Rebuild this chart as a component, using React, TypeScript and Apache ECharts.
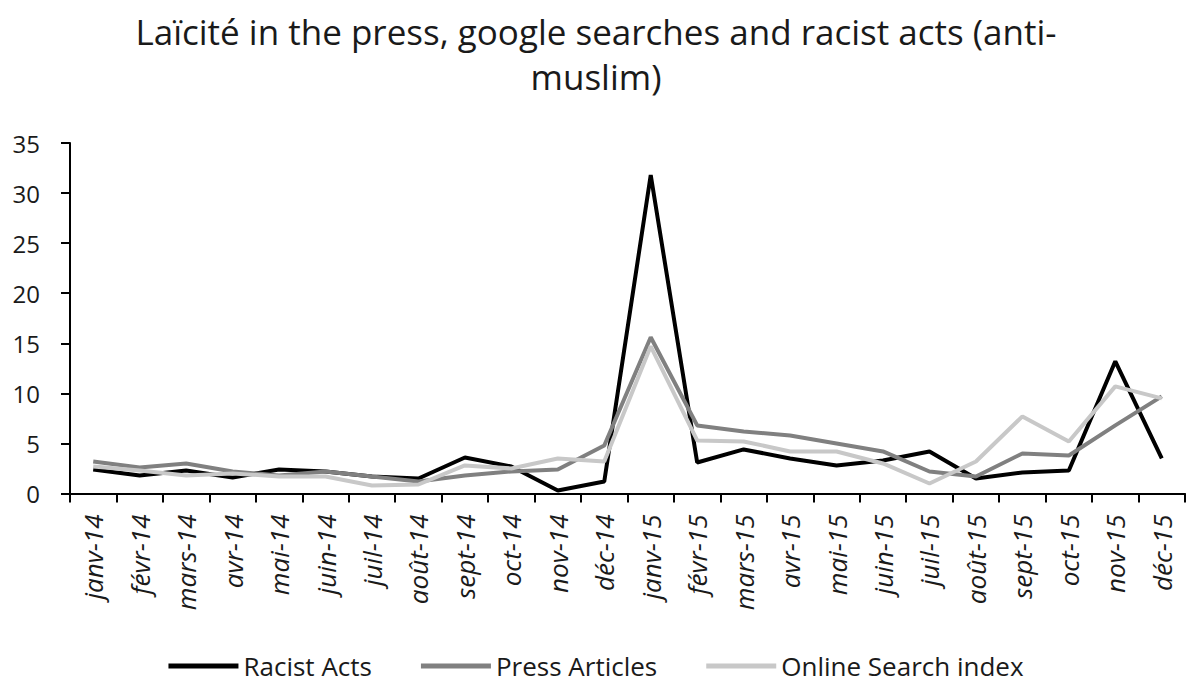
import React, { useEffect, useRef } from "react";
import * as echarts from "echarts";

const months: string[] = [
  "janv-14", "févr-14", "mars-14", "avr-14", "mai-14", "juin-14",
  "juil-14", "août-14", "sept-14", "oct-14", "nov-14", "déc-14",
  "janv-15", "févr-15", "mars-15", "avr-15", "mai-15", "juin-15",
  "juil-15", "août-15", "sept-15", "oct-15", "nov-15", "déc-15",
];

const racistActs: number[] = [
  2.4, 1.8, 2.3, 1.6, 2.4, 2.2, 1.7, 1.5, 3.6, 2.7, 0.3, 1.2,
  31.8, 3.1, 4.4, 3.5, 2.8, 3.3, 4.2, 1.5, 2.1, 2.3, 13.2, 3.5,
];

const pressArticles: number[] = [
  3.2, 2.6, 3.0, 2.2, 1.8, 2.2, 1.7, 1.2, 1.8, 2.2, 2.4, 4.8,
  15.6, 6.8, 6.2, 5.8, 5.0, 4.2, 2.2, 1.7, 4.0, 3.8, 6.8, 9.7,
];

const onlineSearch: number[] = [
  2.7, 2.3, 1.8, 2.0, 1.7, 1.7, 0.8, 0.9, 2.8, 2.5, 3.5, 3.2,
  14.7, 5.3, 5.2, 4.2, 4.2, 3.0, 1.0, 3.2, 7.7, 5.2, 10.7, 9.5,
];

const yTicks: number[] = [0, 5, 10, 15, 20, 25, 30, 35];

const FONT = "'Open Sans', 'Noto Sans', sans-serif";

export default function App() {
  const ref = useRef<HTMLDivElement>(null);

  useEffect(() => {
    document.body.style.margin = "0";
    if (!ref.current) return;
    const chart = echarts.init(ref.current, undefined, { renderer: "svg" });
    const line = (name: string, data: number[], color: string) => ({
      name,
      type: "line",
      data,
      symbol: "none",
      lineStyle: { color, width: 4 },
      itemStyle: { color },
    });
    chart.setOption({
      animation: false,
      backgroundColor: "#ffffff",
      title: {
        text: "Laïcité in the press, google searches and racist acts (anti-\nmuslim)",
        left: "center",
        top: 4,
        textStyle: {
          fontFamily: FONT,
          fontSize: 35,
          fontWeight: "normal",
          color: "#1a1a1a",
          lineHeight: 45,
        },
      },
      legend: {
        bottom: 0,
        left: "center",
        itemWidth: 70,
        itemHeight: 5,
        itemGap: 49,
        icon: "rect",
        textStyle: { fontFamily: FONT, fontSize: 26, color: "#1a1a1a" },
        data: ["Racist Acts", "Press Articles", "Online Search index"],
      },
      grid: { left: 70, right: 7, top: 143, bottom: 190.5, containLabel: false },
      xAxis: {
        type: "category",
        data: months,
        boundaryGap: true,
        axisLine: { lineStyle: { color: "#000", width: 2 } },
        axisTick: { show: true, length: 9, lineStyle: { color: "#000", width: 2 } },
        axisLabel: {
          rotate: 90,
          interval: 0,
          margin: 21,
          fontFamily: FONT,
          fontSize: 26,
          fontStyle: "italic",
          color: "#1a1a1a",
        },
        splitLine: { show: false },
      },
      yAxis: {
        type: "value",
        min: yTicks[0],
        max: yTicks[yTicks.length - 1],
        interval: 5,
        axisLine: { show: true, lineStyle: { color: "#000", width: 2 } },
        axisTick: { show: true, length: 9, lineStyle: { color: "#000", width: 2 } },
        axisLabel: { fontFamily: FONT, fontSize: 24, color: "#1a1a1a", margin: 30 },
        splitLine: { show: false },
      },
      series: [
        line("Racist Acts", racistActs, "#000000"),
        line("Press Articles", pressArticles, "#808080"),
        line("Online Search index", onlineSearch, "#c8c8c8"),
      ],
    });
    return () => chart.dispose();
  }, []);

  return <div ref={ref} style={{ width: 1192, height: 684 }} />;
}
